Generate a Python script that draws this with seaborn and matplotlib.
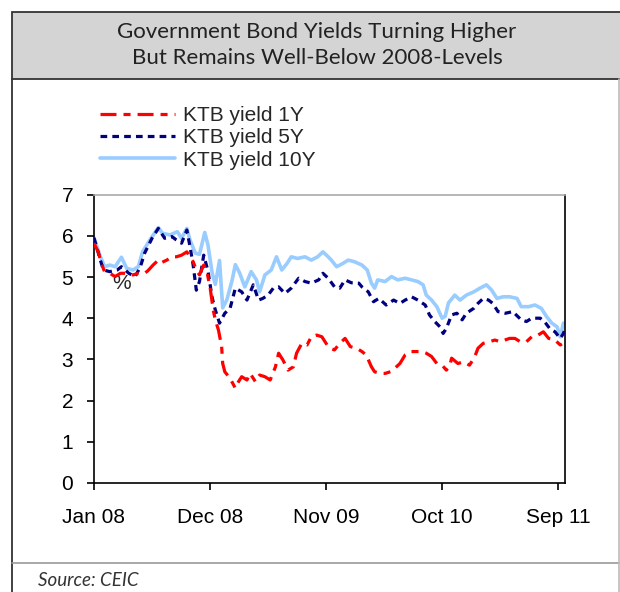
import matplotlib
matplotlib.use("Agg")
import matplotlib.pyplot as plt
from matplotlib.lines import Line2D
from matplotlib.patches import Rectangle
import seaborn as sns
import pandas as pd

# ---------------- data (months since Jan 2008, yield %) ----------------
m_1y = [0.0, 0.4, 0.7, 1.0, 1.5, 2.0, 2.5, 3.1, 3.7, 4.2, 4.8, 5.1, 5.6, 6.1, 6.4, 6.9, 7.4, 7.8,
        8.3, 8.8, 9.1, 9.4, 9.7, 10.0, 10.4, 10.7, 11.0, 11.3, 11.5, 11.8, 12.1, 12.2, 12.4, 12.9,
        13.4, 13.7, 14.0, 14.5, 14.8, 15.3, 15.7, 16.2, 16.7, 17.2, 17.5, 17.9, 18.4, 18.9, 19.2,
        19.7, 20.2, 20.6, 21.1, 21.6, 22.1, 22.4, 22.8, 23.3, 23.8, 24.3, 24.9, 25.4, 25.8, 26.3,
        26.6, 27.1, 27.6, 28.1, 28.5, 29.0, 29.5, 30.0, 30.4, 31.1, 31.5, 32.0, 32.5, 33.0, 33.4,
        33.7, 33.9, 34.5, 35.0, 35.6, 36.1, 36.4, 36.9, 37.5, 38.0, 38.5, 39.4, 39.9, 40.4, 41.0,
        41.5, 42.1, 42.6, 43.1, 43.7, 44.2, 44.5]
y_1y = [5.82, 5.61, 5.33, 5.13, 5.09, 5.01, 5.09, 5.09, 5.05, 5.09, 5.09, 5.15, 5.29, 5.41, 5.35,
        5.41, 5.49, 5.49, 5.53, 5.61, 5.49, 5.37, 5.17, 5.05, 5.29, 5.13, 4.76, 4.20, 3.96, 3.71,
        3.31, 2.90, 2.70, 2.54, 2.30, 2.46, 2.58, 2.50, 2.66, 2.46, 2.62, 2.58, 2.50, 2.82, 3.15,
        2.99, 2.74, 2.82, 3.15, 3.39, 3.35, 3.55, 3.59, 3.55, 3.35, 3.27, 3.23, 3.39, 3.51, 3.31,
        3.27, 3.19, 3.11, 2.82, 2.70, 2.66, 2.66, 2.70, 2.78, 2.90, 3.11, 3.19, 3.19, 3.19, 3.15,
        3.07, 2.90, 2.86, 2.74, 2.82, 3.03, 2.90, 2.94, 2.86, 3.07, 3.27, 3.39, 3.43, 3.47, 3.43,
        3.51, 3.51, 3.43, 3.43, 3.55, 3.59, 3.67, 3.51, 3.47, 3.35, 3.40]

m_5y = [0.0, 0.6, 0.9, 1.5, 2.2, 2.6, 3.3, 3.9, 4.4, 4.8, 5.5, 6.1, 6.7, 7.4, 7.8, 8.3, 8.8, 9.1,
        9.4, 9.7, 10.0, 10.4, 10.8, 11.2, 11.5, 11.9, 12.4, 12.9, 13.4, 14.0, 14.5, 15.1, 15.6,
        16.0, 16.5, 17.0, 17.5, 18.1, 18.7, 19.4, 20.0, 20.6, 21.3, 21.7, 22.2, 22.8, 23.3, 23.8,
        24.4, 25.1, 25.4, 26.0, 26.5, 27.0, 27.7, 28.4, 29.0, 29.5, 30.1, 30.7, 31.4, 31.8, 32.3,
        32.8, 33.1, 33.4, 33.9, 34.4, 34.9, 35.3, 36.0, 36.4, 36.9, 37.4, 37.8, 38.3, 39.0, 39.7,
        40.5, 41.0, 41.5, 42.3, 42.7, 43.2, 43.7, 44.2, 44.5, 44.6]
y_5y = [5.95, 5.41, 5.17, 5.13, 5.17, 5.25, 5.09, 5.01, 5.25, 5.58, 5.94, 6.18, 5.94, 5.98, 5.90,
        5.82, 6.14, 5.74, 5.29, 4.68, 4.89, 5.53, 5.15, 4.50, 4.20, 3.88, 4.12, 4.24, 4.73, 4.64,
        4.44, 4.81, 4.44, 4.48, 4.56, 4.73, 4.76, 4.60, 4.73, 4.97, 4.89, 4.85, 4.93, 5.09, 4.97,
        4.76, 4.73, 4.93, 4.86, 4.85, 4.76, 4.64, 4.40, 4.48, 4.32, 4.44, 4.36, 4.44, 4.52, 4.44,
        4.32, 4.08, 3.92, 3.79, 3.63, 3.75, 4.08, 4.12, 3.96, 4.12, 4.24, 4.36, 4.48, 4.44, 4.36,
        4.16, 4.12, 4.16, 3.96, 3.92, 4.00, 4.00, 3.92, 3.75, 3.67, 3.51, 3.63, 3.70]

m_10y = [0.0, 0.6, 1.0, 1.5, 2.0, 2.6, 3.1, 3.7, 4.2, 4.6, 5.3, 6.1, 6.5, 7.2, 7.9, 8.3, 8.8, 9.1,
         9.6, 10.0, 10.5, 10.8, 11.2, 11.5, 11.9, 12.2, 12.6, 13.1, 13.4, 13.8, 14.3, 14.9, 15.4,
         15.7, 16.2, 16.8, 17.3, 17.8, 18.3, 18.7, 19.3, 20.0, 20.6, 21.2, 21.7, 22.2, 22.5, 23.0,
         23.6, 24.1, 24.7, 25.4, 25.9, 26.3, 26.6, 26.9, 27.6, 28.2, 28.8, 29.5, 30.1, 30.7, 31.2,
         31.5, 32.0, 32.5, 33.0, 33.3, 33.6, 34.2, 34.7, 35.3, 36.0, 36.6, 37.2, 37.7, 38.2, 38.8,
         39.4, 40.1, 40.5, 41.2, 41.8, 42.4, 42.9, 43.4, 43.9, 44.2, 44.5, 44.6]
y_10y = [5.95, 5.50, 5.25, 5.29, 5.25, 5.48, 5.21, 5.17, 5.25, 5.61, 5.90, 6.20, 6.06, 6.02, 6.10,
         5.94, 6.18, 5.90, 5.58, 5.55, 6.08, 5.78, 5.10, 4.82, 5.40, 4.25, 4.45, 4.93, 5.30, 5.10,
         4.76, 5.13, 4.93, 4.64, 5.05, 5.17, 5.49, 5.17, 5.33, 5.49, 5.45, 5.49, 5.41, 5.49, 5.61,
         5.49, 5.41, 5.25, 5.33, 5.41, 5.37, 5.29, 5.17, 4.85, 4.73, 4.93, 4.89, 5.01, 4.93, 4.97,
         4.93, 4.89, 4.81, 4.56, 4.44, 4.28, 4.00, 4.05, 4.37, 4.56, 4.44, 4.56, 4.64, 4.73, 4.81,
         4.68, 4.48, 4.52, 4.52, 4.48, 4.28, 4.28, 4.32, 4.24, 4.04, 3.88, 3.79, 3.55, 3.88, 3.88]

series_names = ["KTB yield 1Y", "KTB yield 5Y", "KTB yield 10Y"]
tick_months = [0, 11, 22, 33, 44]
tick_labels = ["Jan 08", "Dec 08", "Nov 09", "Oct 10", "Sep 11"]
y_ticks = [0, 1, 2, 3, 4, 5, 6, 7]

colors = {"KTB yield 1Y": "#ff0000", "KTB yield 5Y": "#000080", "KTB yield 10Y": "#99ccff"}
styles = {"KTB yield 1Y": (0, (5, 2.2, 2.2, 2.2)),
          "KTB yield 5Y": (0, (2.1, 1.6)),
          "KTB yield 10Y": "-"}
widths = {"KTB yield 1Y": 2.3, "KTB yield 5Y": 2.3, "KTB yield 10Y": 2.6}

df = pd.concat([
    pd.DataFrame({"month": m_1y, "yield": y_1y, "series": series_names[0]}),
    pd.DataFrame({"month": m_5y, "yield": y_5y, "series": series_names[1]}),
    pd.DataFrame({"month": m_10y, "yield": y_10y, "series": series_names[2]}),
])

# ---------------- figure ----------------
sns.set_style("white")
plt.rcParams["font.family"] = ["Liberation Sans", "DejaVu Sans"]

W, H = 620, 592
fig = plt.figure(figsize=(W / 100, H / 100), dpi=100)
fig.patch.set_facecolor("white")

def fx(px):
    return px / W

def fy(py):
    return 1 - py / H

# title box and frame
fig.patches.append(Rectangle((fx(12), fy(79)), fx(620 - 12) + 0.01, 67 / H, transform=fig.transFigure,
                             facecolor="#d4d4d4", edgecolor="#333333", linewidth=1.3, zorder=0))
fig.lines.append(Line2D([fx(12), fx(12)], [fy(79), 0], transform=fig.transFigure, color="#333333", lw=1.3))
fig.lines.append(Line2D([fx(12), 1], [fy(563), fy(563)], transform=fig.transFigure, color="#999999", lw=1.2))
fig.lines.append(Line2D([fx(619), fx(619)], [fy(79), 0], transform=fig.transFigure, color="#bbbbbb", lw=1.2))

fig.text(fx(317), fy(32), "Government Bond Yields Turning Higher", ha="center", va="center",
         fontsize=16, color="#222222", family=["Lato", "DejaVu Sans"])
fig.text(fx(317), fy(58), "But Remains Well-Below 2008-Levels", ha="center", va="center",
         fontsize=16, color="#222222", family=["Lato", "DejaVu Sans"])
fig.text(fx(38), fy(580), "Source: CEIC", ha="left", va="center", fontsize=13.5, style="italic",
         color="#333333", family=["Lato", "DejaVu Sans"])

ax = fig.add_axes([fx(94), fy(483), fx(565 - 94), (483 - 194.6) / H])

for name, z in zip(series_names[::-1], [2, 3, 4]):
    sub = df[df["series"] == name]
    sns.lineplot(data=sub, x="month", y="yield", ax=ax, color=colors[name], linestyle=styles[name],
                 linewidth=widths[name], zorder=z, legend=False, estimator=None, sort=False)

ax.set_xlim(0, 44.65)
ax.set_ylim(0, 7)
ax.set_xticks(tick_months)
ax.set_xticklabels(tick_labels)
ax.set_yticks(y_ticks)
ax.set_xlabel("")
ax.set_ylabel("")
ax.tick_params(axis="both", labelsize=15, colors="black", direction="out", length=5, width=1.2)
ax.tick_params(axis="x", pad=13, bottom=True)
ax.tick_params(axis="y", pad=10, left=True)
for side in ["left", "bottom", "right"]:
    ax.spines[side].set_color("black")
    ax.spines[side].set_linewidth(1.2)
ax.spines["top"].set_color("#aaaaaa")
ax.spines["top"].set_linewidth(1.2)
ax.text(2.65, 4.85, "%", fontsize=15, ha="center", va="center")

handles = [Line2D([], [], color=colors[n], linestyle=styles[n], linewidth=widths[n]) for n in series_names]
fig.legend(handles, series_names, loc="upper left", bbox_to_anchor=(fx(92), fy(98)), frameon=False,
           fontsize=15, handlelength=3.6, handletextpad=0.35, labelspacing=0.15, borderaxespad=0)

fig.savefig("out.png", dpi=100)
